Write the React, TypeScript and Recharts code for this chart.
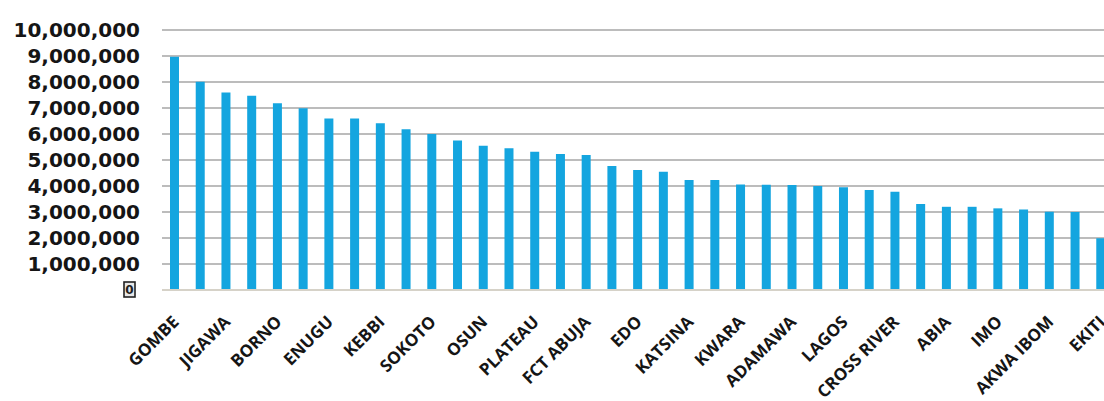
import React from "react";
import { BarChart, Bar, XAxis, YAxis, CartesianGrid } from "recharts";

const states = [
  "GOMBE", "BAUCHI", "JIGAWA", "YOBE", "BORNO", "ZAMFARA", "ENUGU", "KANO",
  "KEBBI", "KADUNA", "SOKOTO", "NIGER", "OSUN", "NASARAWA", "PLATEAU", "KOGI",
  "FCT ABUJA", "BENUE", "EDO", "TARABA", "KATSINA", "ONDO", "KWARA", "OGUN",
  "ADAMAWA", "OYO", "LAGOS", "ANAMBRA", "CROSS RIVER", "EBONYI", "ABIA", "DELTA",
  "IMO", "RIVERS", "AKWA IBOM", "BAYELSA", "EKITI",
];

const values = [
  8970000, 8010000, 7600000, 7470000, 7180000, 6990000, 6600000, 6600000,
  6410000, 6180000, 6000000, 5750000, 5550000, 5450000, 5320000, 5230000,
  5190000, 4770000, 4620000, 4550000, 4230000, 4230000, 4060000, 4050000,
  4040000, 4000000, 3950000, 3850000, 3780000, 3310000, 3200000, 3200000,
  3140000, 3100000, 3010000, 3000000, 1990000,
];

const yTicks = [
  0, 1000000, 2000000, 3000000, 4000000, 5000000,
  6000000, 7000000, 8000000, 9000000, 10000000,
];

const data = states.map((name, i) => ({ name, value: values[i] }));

const YTick = (props: any) => {
  const { x, y, payload } = props;
  if (payload.value === 0) {
    // zero label is drawn boxed
    return (
      <g>
        <rect x={x - 30} y={y - 8} width={11} height={15} fill="#e8e8e8" stroke="#222" strokeWidth={1.6} />
        <text x={x - 24.5} y={y} dy="0.35em" textAnchor="middle" fontSize={12} fontWeight="bold"
          fontFamily="DejaVu Sans" fill="#222">0</text>
      </g>
    );
  }
  return (
    <text x={x - 14} y={y} dy="0.36em" textAnchor="end" fontSize={20} fontWeight="bold"
      fontFamily="DejaVu Sans, sans-serif" fill="#151515">
      {payload.value.toLocaleString("en-US")}
    </text>
  );
};

// category labels slanted at 45°, ending just right of the tick
const XTick = (props: any) => {
  const { x, y, payload } = props;
  return (
    <g transform={`translate(${x + 5}, ${y + 25})`}>
      <text x={0} y={0} transform="rotate(-45)" textAnchor="end"
        fontSize={17} fontWeight="bold" fontFamily="Open Sans, sans-serif" fill="#151515">
        {payload.value}
      </text>
    </g>
  );
};

export default function App() {
  return (
    <div style={{ position: "absolute", left: 0, top: 0, width: 1104, height: 401, overflow: "hidden", background: "#fff" }}>
      <BarChart width={1114} height={401} data={data} margin={{ top: 30, right: 0, left: 0, bottom: 0 }}>
        <CartesianGrid vertical={false} stroke="#bcbcbc" strokeWidth={2} />
        <XAxis dataKey="name" interval={1} height={111} tickLine={false}
          axisLine={{ stroke: "#d6d2c8", strokeWidth: 2 }} tick={<XTick />} />
        <YAxis width={162} domain={[0, 10000000]} ticks={yTicks} axisLine={false}
          tickLine={false} tick={<YTick />} />
        <Bar dataKey="value" fill="#14a5df" barSize={9} isAnimationActive={false} />
      </BarChart>
    </div>
  );
}
